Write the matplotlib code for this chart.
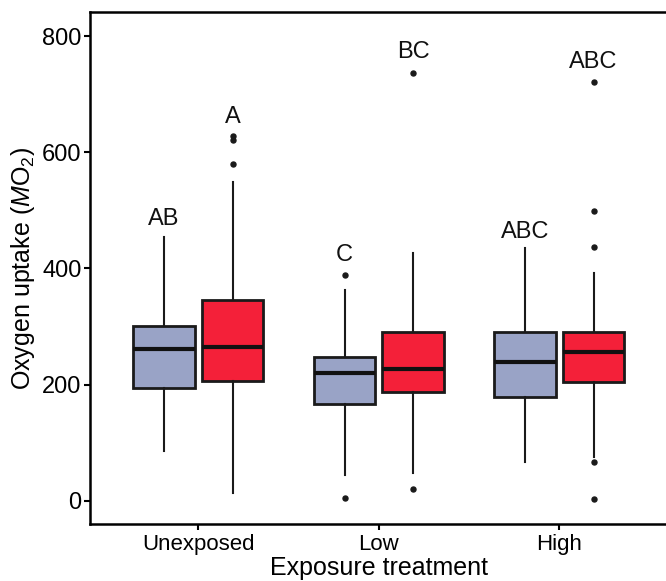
import matplotlib
matplotlib.use("Agg")
import matplotlib.pyplot as plt

plt.rcParams["font.family"] = ["Liberation Sans", "DejaVu Sans"]
plt.rcParams["mathtext.fontset"] = "custom"
plt.rcParams["mathtext.rm"] = "Liberation Sans"
plt.rcParams["mathtext.it"] = "Liberation Sans:italic"

# treatment groups on the x axis
groups = ["Unexposed", "Low", "High"]
# two boxes per group (blue then red)
box_colors = ["#99A3C6", "#F42039"]

# box statistics, per group: [blue, red]
whislo = [[86, 14], [45, 48], [67, 76]]
q1 = [[194, 206], [167, 188], [179, 205]]
med = [[262, 265], [220, 227], [239, 256]]
q3 = [[301, 346], [248, 291], [291, 291]]
whishi = [[454, 549], [363, 427], [435, 392]]
fliers = [[[], [580, 621, 628]],
          [[5, 389], [21, 736]],
          [[], [3, 67, 437, 499, 721]]]

# letter annotations and their heights
letters = [["AB", "A"], ["C", "BC"], ["ABC", "ABC"]]
letter_y = [[485, 661], [423, 772], [463, 755]]

offsets = [-0.19, 0.19]
box_w = 0.34

fig = plt.figure(figsize=(6.66, 5.81), dpi=100)
ax = fig.add_axes([90 / 666, 57 / 581, 577.6 / 666, 512 / 581])

for g in range(len(groups)):
    for k in range(2):
        st = dict(whislo=whislo[g][k], q1=q1[g][k], med=med[g][k],
                  q3=q3[g][k], whishi=whishi[g][k], fliers=fliers[g][k])
        pos = g + 1 + offsets[k]
        ax.bxp([st], positions=[pos], widths=box_w, patch_artist=True,
               showcaps=False, manage_ticks=False,
               boxprops=dict(facecolor=box_colors[k], edgecolor="#1a1a1a", linewidth=2.0),
               medianprops=dict(color="#111111", linewidth=3.0, solid_capstyle="butt"),
               whiskerprops=dict(color="#1a1a1a", linewidth=1.5),
               flierprops=dict(marker="o", markersize=3.6, markerfacecolor="#1a1a1a",
                               markeredgecolor="#1a1a1a"))
        ax.text(pos, letter_y[g][k], letters[g][k], ha="center", va="center",
                fontsize=17, color="#111111")

ax.set_xlim(0.4, 3.6)
ax.set_ylim(-39.6, 841.3)
ax.set_xticks([1, 2, 3])
ax.set_xticklabels(groups)
ax.set_yticks([0, 200, 400, 600, 800])

ax.spines["right"].set_visible(False)
for s in ["left", "bottom", "top"]:
    ax.spines[s].set_linewidth(1.8)
    ax.spines[s].set_color("black")

ax.tick_params(axis="y", labelsize=17, length=4, width=1.5, pad=2, colors="black")
ax.tick_params(axis="x", labelsize=16, length=4, width=1.5, pad=3, colors="black")

ax.set_xlabel("Exposure treatment", fontsize=18, labelpad=1)
ax.set_ylabel(r"Oxygen uptake ($\mathit{M}$O$_2$)", fontsize=18, labelpad=4)

plt.savefig("out.png", dpi=100)
